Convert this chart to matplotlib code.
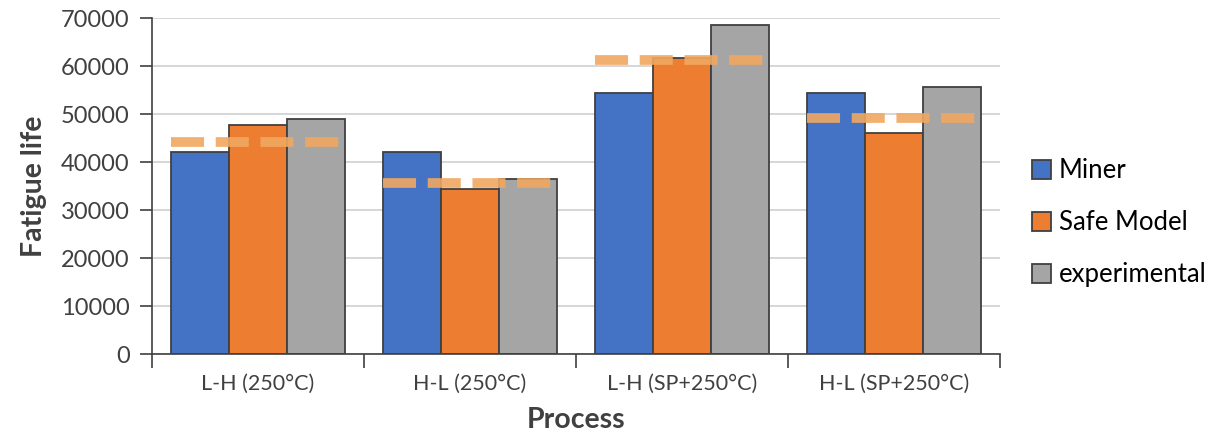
import numpy as np
import matplotlib.pyplot as plt

processes = ['L-H (250°C)', 'H-L (250°C)', 'L-H (SP+250°C)', 'H-L (SP+250°C)']
miner = [42100, 42000, 54300, 54300]
safe_model = [47700, 34300, 61700, 46100]
experimental = [48900, 36500, 68600, 55700]
dashed_level = [44200, 35600, 61300, 49100]

plt.rcParams['font.family'] = ['Lato', 'DejaVu Sans']

fig = plt.figure(figsize=(12.21, 4.41), dpi=100)
ax = fig.add_axes([0.1245, 0.197, 0.6945, 0.762])

x = np.arange(len(processes))
w = 0.275
edge = '#404040'
ax.bar(x - w, miner, w, color='#4472C4', edgecolor=edge, linewidth=1.3, label='Miner', zorder=2)
ax.bar(x, safe_model, w, color='#ED7D31', edgecolor=edge, linewidth=1.3, label='Safe Model', zorder=2)
ax.bar(x + w, experimental, w, color='#A5A5A5', edgecolor=edge, linewidth=1.3, label='experimental', zorder=2)

for i, v in enumerate(dashed_level):
    ax.plot([i - 1.5 * w, i + 1.5 * w], [v, v], color='#F0A860', alpha=0.9,
            linewidth=7, dashes=(3.4, 1.2), zorder=3)

ax.set_xlim(-0.5, len(processes) - 0.5)
ax.set_ylim(0, 70000)
ax.set_yticks(np.arange(0, 70001, 10000))
ax.yaxis.grid(True, color='#D0D0D0', linewidth=1.2, zorder=0)
ax.set_axisbelow(True)

ax.set_xticks(x)
ax.set_xticklabels(processes)
ax.set_xticks(np.arange(-0.5, len(processes)), minor=True)
ax.tick_params(axis='x', which='major', length=0, pad=14, labelsize=15.5, labelcolor='#404040')
ax.tick_params(axis='x', which='minor', length=10, width=1.2, color='#404040')
ax.tick_params(axis='y', length=9, width=1.2, color='#404040', labelsize=17, labelcolor='#404040', pad=7)

for s in ['top', 'right']:
    ax.spines[s].set_visible(False)
for s in ['left', 'bottom']:
    ax.spines[s].set_color('#404040')
    ax.spines[s].set_linewidth(1.2)

ax.set_xlabel('Process', fontsize=20.5, fontweight='bold', color='#404040', labelpad=10)
ax.set_ylabel('Fatigue life', fontsize=20.5, fontweight='bold', color='#404040', labelpad=10)

fig.legend(loc='center left', bbox_to_anchor=(0.826, 0.495), frameon=False, fontsize=18.5,
           handlelength=0.75, handleheight=0.75, handletextpad=0.3, labelspacing=1.05)

fig.savefig('out.png', dpi=100)
